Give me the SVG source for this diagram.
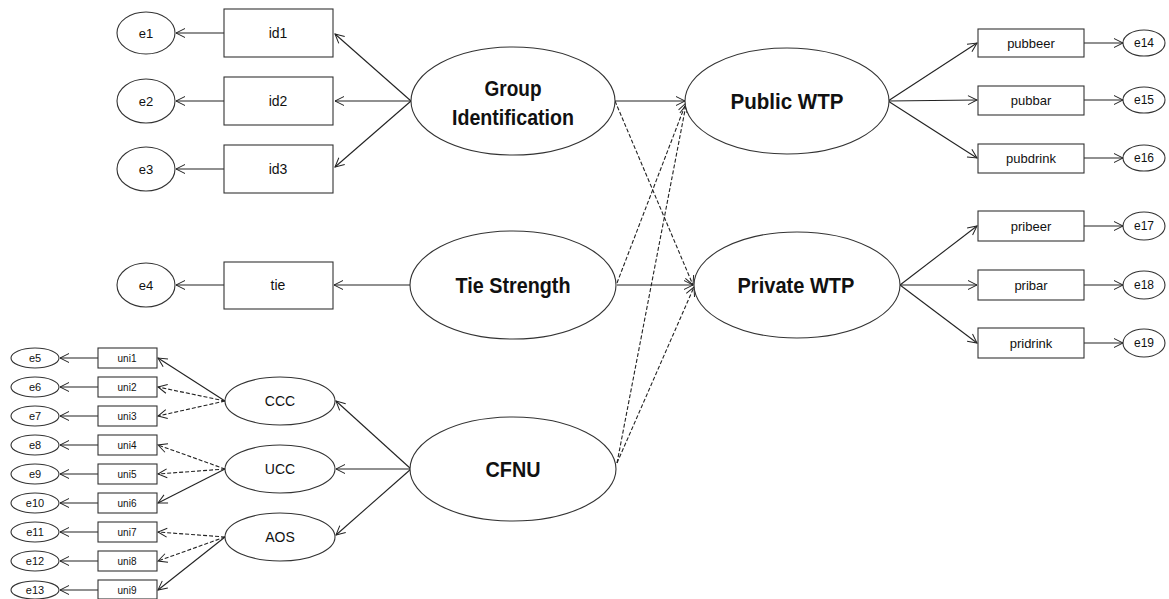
<svg xmlns="http://www.w3.org/2000/svg" width="1169" height="599" viewBox="0 0 1169 599">
<defs>
<marker id="arr" markerUnits="userSpaceOnUse" markerWidth="12" markerHeight="12" refX="10" refY="5" orient="auto" overflow="visible">
<path d="M1,0.5 L10,5 L1,9.5" fill="none" stroke="#222" stroke-width="1"/>
</marker>
</defs>
<style>
.n{fill:#fff;stroke:#333;stroke-width:1.1}
.c line{stroke:#222;stroke-width:1.1;marker-end:url(#arr)}
.c .d{stroke-dasharray:4 2}
text{font-family:"Liberation Sans",Arial,sans-serif;fill:#111;text-anchor:middle;dominant-baseline:central}
.big{font-size:22px;font-weight:bold}
.m{font-size:14px}
.s{font-size:13px}
.t{font-size:10px}
.u{font-size:11px}
.r{font-size:12px}
</style>
<rect width="1169" height="599" fill="#fff"/>
<g class="c" id="connectors">
<line x1="224" y1="33" x2="176" y2="33"/>
<line x1="224" y1="101" x2="176" y2="101"/>
<line x1="224" y1="169" x2="176" y2="169"/>
<line x1="411" y1="101" x2="335" y2="34"/>
<line x1="411" y1="101" x2="335" y2="101"/>
<line x1="411" y1="101" x2="335" y2="167"/>
<line x1="224" y1="285" x2="176" y2="285"/>
<line x1="410" y1="285" x2="334" y2="285"/>
<line x1="615" y1="101" x2="685" y2="101"/>
<line class="d" x1="615" y1="101" x2="693" y2="285"/>
<line x1="617" y1="285" x2="693" y2="285"/>
<line class="d" x1="617" y1="283" x2="686" y2="103"/>
<line class="d" x1="617" y1="463" x2="686" y2="105"/>
<line class="d" x1="617" y1="463" x2="694" y2="287"/>
<line x1="888" y1="101" x2="977" y2="43"/>
<line x1="888" y1="101" x2="977" y2="100"/>
<line x1="888" y1="101" x2="977" y2="158"/>
<line x1="1084" y1="43" x2="1123" y2="43"/>
<line x1="1084" y1="100" x2="1123" y2="100"/>
<line x1="1084" y1="158" x2="1123" y2="158"/>
<line x1="900" y1="285" x2="977" y2="226"/>
<line x1="900" y1="285" x2="977" y2="285"/>
<line x1="900" y1="285" x2="977" y2="343"/>
<line x1="1084" y1="226" x2="1123" y2="226"/>
<line x1="1084" y1="285" x2="1123" y2="285"/>
<line x1="1084" y1="343" x2="1123" y2="343"/>
<line x1="411" y1="469" x2="336" y2="401"/>
<line x1="411" y1="469" x2="336" y2="469"/>
<line x1="411" y1="469" x2="336" y2="535"/>
<line x1="225" y1="401" x2="158" y2="358"/>
<line class="d" x1="225" y1="401" x2="158" y2="387"/>
<line class="d" x1="225" y1="401" x2="158" y2="416"/>
<line class="d" x1="225" y1="469" x2="158" y2="445"/>
<line class="d" x1="225" y1="469" x2="158" y2="474"/>
<line x1="225" y1="469" x2="158" y2="503"/>
<line class="d" x1="225" y1="537" x2="158" y2="532"/>
<line class="d" x1="225" y1="537" x2="158" y2="561"/>
<line x1="225" y1="537" x2="158" y2="590"/>
<line x1="98" y1="358" x2="60" y2="358"/>
<line x1="98" y1="387" x2="60" y2="387"/>
<line x1="98" y1="416" x2="60" y2="416"/>
<line x1="98" y1="445" x2="60" y2="445"/>
<line x1="98" y1="474" x2="60" y2="474"/>
<line x1="98" y1="503" x2="60" y2="503"/>
<line x1="98" y1="532" x2="60" y2="532"/>
<line x1="98" y1="561" x2="60" y2="561"/>
<line x1="98" y1="590" x2="60" y2="590"/>
</g>
<g id="e1"><ellipse class="n" cx="146" cy="33" rx="29" ry="21"/><text class="s" x="146" y="33">e1</text></g>
<g id="e2"><ellipse class="n" cx="146" cy="101" rx="29" ry="22"/><text class="s" x="146" y="101">e2</text></g>
<g id="e3"><ellipse class="n" cx="146" cy="169" rx="29" ry="22"/><text class="s" x="146" y="169">e3</text></g>
<g id="e4"><ellipse class="n" cx="146" cy="285" rx="29" ry="22"/><text class="s" x="146" y="285">e4</text></g>
<g id="id1"><rect class="n" x="224" y="9" width="109" height="48"/><text class="m" x="278" y="33">id1</text></g>
<g id="id2"><rect class="n" x="224" y="77" width="109" height="48"/><text class="m" x="278" y="101">id2</text></g>
<g id="id3"><rect class="n" x="224" y="145" width="109" height="48"/><text class="m" x="278" y="169">id3</text></g>
<g id="tie"><rect class="n" x="224" y="262" width="109" height="47"/><text class="m" x="278" y="285">tie</text></g>
<g id="groupid"><ellipse class="n" cx="513" cy="101" rx="102" ry="54"/><text class="big" x="513" y="88" textLength="57" lengthAdjust="spacingAndGlyphs">Group</text><text class="big" x="513" y="117" textLength="122" lengthAdjust="spacingAndGlyphs">Identification</text></g>
<g id="tiestrength"><ellipse class="n" cx="513" cy="285" rx="103" ry="54"/><text class="big" x="513" y="285" textLength="115" lengthAdjust="spacingAndGlyphs">Tie Strength</text></g>
<g id="cfnu"><ellipse class="n" cx="513" cy="469" rx="103" ry="52"/><text class="big" x="513" y="469" textLength="55" lengthAdjust="spacingAndGlyphs">CFNU</text></g>
<g id="publicwtp"><ellipse class="n" cx="787" cy="101" rx="102" ry="53"/><text class="big" x="787" y="101" textLength="113" lengthAdjust="spacingAndGlyphs">Public WTP</text></g>
<g id="privatewtp"><ellipse class="n" cx="797" cy="285" rx="103" ry="53"/><text class="big" x="796" y="285" textLength="117" lengthAdjust="spacingAndGlyphs">Private WTP</text></g>
<g id="pubbeer"><rect class="n" x="978" y="29" width="106" height="28"/><text class="s" x="1031" y="43">pubbeer</text></g>
<g id="pubbar"><rect class="n" x="978" y="86" width="106" height="29"/><text class="s" x="1031" y="100">pubbar</text></g>
<g id="pubdrink"><rect class="n" x="978" y="144" width="106" height="29"/><text class="s" x="1031" y="158">pubdrink</text></g>
<g id="pribeer"><rect class="n" x="978" y="211" width="106" height="30"/><text class="s" x="1031" y="226">pribeer</text></g>
<g id="pribar"><rect class="n" x="978" y="270" width="106" height="30"/><text class="s" x="1031" y="285">pribar</text></g>
<g id="pridrink"><rect class="n" x="978" y="328" width="106" height="30"/><text class="s" x="1031" y="343">pridrink</text></g>
<g id="e14"><ellipse class="n" cx="1144" cy="43" rx="21" ry="13"/><text class="r" x="1144" y="43">e14</text></g>
<g id="e15"><ellipse class="n" cx="1144" cy="100" rx="21" ry="13"/><text class="r" x="1144" y="100">e15</text></g>
<g id="e16"><ellipse class="n" cx="1144" cy="158" rx="21" ry="13"/><text class="r" x="1144" y="158">e16</text></g>
<g id="e17"><ellipse class="n" cx="1144" cy="226" rx="21" ry="14"/><text class="r" x="1144" y="226">e17</text></g>
<g id="e18"><ellipse class="n" cx="1144" cy="285" rx="21" ry="14"/><text class="r" x="1144" y="285">e18</text></g>
<g id="e19"><ellipse class="n" cx="1144" cy="343" rx="21" ry="14"/><text class="r" x="1144" y="343">e19</text></g>
<g id="ccc"><ellipse class="n" cx="280" cy="401" rx="55" ry="24"/><text class="m" x="280" y="401">CCC</text></g>
<g id="ucc"><ellipse class="n" cx="280" cy="469" rx="55" ry="24"/><text class="m" x="280" y="469">UCC</text></g>
<g id="aos"><ellipse class="n" cx="280" cy="537" rx="55" ry="24"/><text class="m" x="280" y="537">AOS</text></g>
<g id="uni1"><rect class="n" x="98" y="348" width="59" height="20"/><text class="t" x="127" y="358">uni1</text></g>
<g id="uni2"><rect class="n" x="98" y="377" width="59" height="20"/><text class="t" x="127" y="387">uni2</text></g>
<g id="uni3"><rect class="n" x="98" y="406" width="59" height="20"/><text class="t" x="127" y="416">uni3</text></g>
<g id="uni4"><rect class="n" x="98" y="435" width="59" height="20"/><text class="t" x="127" y="445">uni4</text></g>
<g id="uni5"><rect class="n" x="98" y="464" width="59" height="20"/><text class="t" x="127" y="474">uni5</text></g>
<g id="uni6"><rect class="n" x="98" y="493" width="59" height="20"/><text class="t" x="127" y="503">uni6</text></g>
<g id="uni7"><rect class="n" x="98" y="522" width="59" height="20"/><text class="t" x="127" y="532">uni7</text></g>
<g id="uni8"><rect class="n" x="98" y="551" width="59" height="20"/><text class="t" x="127" y="561">uni8</text></g>
<g id="uni9"><rect class="n" x="98" y="580" width="59" height="19"/><text class="t" x="127" y="590">uni9</text></g>
<g id="e5"><ellipse class="n" cx="35" cy="358" rx="24" ry="10"/><text class="u" x="35" y="358">e5</text></g>
<g id="e6"><ellipse class="n" cx="35" cy="387" rx="24" ry="10"/><text class="u" x="35" y="387">e6</text></g>
<g id="e7"><ellipse class="n" cx="35" cy="416" rx="24" ry="10"/><text class="u" x="35" y="416">e7</text></g>
<g id="e8"><ellipse class="n" cx="35" cy="445" rx="24" ry="10"/><text class="u" x="35" y="445">e8</text></g>
<g id="e9"><ellipse class="n" cx="35" cy="474" rx="24" ry="10"/><text class="u" x="35" y="474">e9</text></g>
<g id="e10"><ellipse class="n" cx="35" cy="503" rx="24" ry="10"/><text class="u" x="35" y="503">e10</text></g>
<g id="e11"><ellipse class="n" cx="35" cy="532" rx="24" ry="10"/><text class="u" x="35" y="532">e11</text></g>
<g id="e12"><ellipse class="n" cx="35" cy="561" rx="24" ry="10"/><text class="u" x="35" y="561">e12</text></g>
<g id="e13"><ellipse class="n" cx="35" cy="590" rx="24" ry="9"/><text class="u" x="35" y="590">e13</text></g>
</svg>
